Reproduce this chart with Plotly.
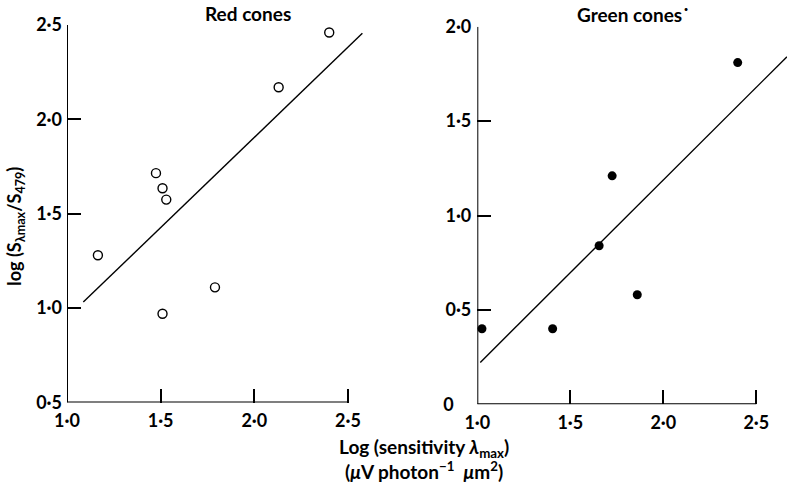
import plotly.graph_objects as go

# ---- data ----
red_x = [1.165, 1.475, 1.51, 1.53, 1.51, 1.79, 2.13, 2.40]
red_y = [1.28, 1.715, 1.635, 1.575, 0.97, 1.11, 2.17, 2.46]
red_fit_x = [1.087, 2.577]
red_fit_y = [1.032, 2.456]

green_x = [1.025, 1.405, 1.655, 1.725, 1.86, 2.40]
green_y = [0.40, 0.40, 0.84, 1.21, 0.58, 1.81]
green_fit_x = [1.016, 2.665]
green_fit_y = [0.222, 1.841]

x_ticks = [1.0, 1.5, 2.0, 2.5]
x_tick_text = ["1·0", "1·5", "2·0", "2·5"]
red_y_ticks = [0.5, 1.0, 1.5, 2.0, 2.5]
red_y_text = ["0·5", "1·0", "1·5", "2·0", "2·5"]
green_y_ticks = [0, 0.5, 1.0, 1.5, 2.0]
green_y_text = ["0\u00a0\u00a0\u00a0\u00a0", "0·5", "1·0", "1·5", "2·0"]

FONT = "Lato"
tickfont = dict(family=FONT, size=18, color="black", weight="bold")

fig = go.Figure()

fig.add_trace(go.Scatter(x=red_fit_x, y=red_fit_y, mode="lines",
                         line=dict(color="black", width=1.4),
                         xaxis="x", yaxis="y", showlegend=False))
fig.add_trace(go.Scatter(x=red_x, y=red_y, mode="markers",
                         marker=dict(symbol="circle-open", size=9, color="black",
                                     line=dict(width=1.4, color="black")),
                         cliponaxis=False, xaxis="x", yaxis="y", showlegend=False))
fig.add_trace(go.Scatter(x=green_fit_x, y=green_fit_y, mode="lines",
                         line=dict(color="black", width=1.4),
                         xaxis="x2", yaxis="y2", showlegend=False))
fig.add_trace(go.Scatter(x=green_x, y=green_y, mode="markers",
                         marker=dict(symbol="circle", size=9, color="black"),
                         cliponaxis=False, xaxis="x2", yaxis="y2", showlegend=False))

axis_common = dict(showgrid=False, zeroline=False, showline=False, automargin=False,
                   ticks="inside", ticklen=14, tickwidth=2, tickcolor="black",
                   tickfont=tickfont, tickmode="array")

fig.update_layout(
    width=787, height=487,
    margin=dict(l=0, r=0, t=0, b=0, pad=0),
    paper_bgcolor="white", plot_bgcolor="white",
    xaxis=dict(domain=[67 / 787, (67 + 1.6 * 187.3) / 787], range=[1.0, 2.6],
               tickvals=x_ticks, ticktext=x_tick_text, anchor="y",
               ticklabelstandoff=5, **axis_common),
    yaxis=dict(domain=[(487 - 402.5) / 487, (487 - 25) / 487], range=[0.5, 2.5],
               tickvals=red_y_ticks, ticktext=red_y_text, anchor="x",
               ticklabelstandoff=4, **axis_common),
    xaxis2=dict(domain=[477.3 / 787, 1.0], range=[1.0, 1.0 + (787 - 477.3) / 186],
                tickvals=x_ticks, ticktext=x_tick_text, anchor="y2",
                ticklabelstandoff=6, **axis_common),
    yaxis2=dict(domain=[(487 - 404.3) / 487, (487 - 26.7) / 487], range=[0, 2.0],
                tickvals=green_y_ticks, ticktext=green_y_text, anchor="x2",
                ticklabelstandoff=5, **axis_common),
)

# axis lines (end at 2.5 like the original)
for xr, yr, y0, y1 in [("x", "y", 0.5, 2.5), ("x2", "y2", 0.0, 2.0)]:
    fig.add_shape(type="line", xref=xr, yref=yr, x0=1.0, x1=2.5, y0=y0, y1=y0,
                  line=dict(color="black", width=2))
    fig.add_shape(type="line", xref=xr, yref=yr, x0=1.0, x1=1.0, y0=y0, y1=y1,
                  line=dict(color="black", width=2))

titlefont = dict(family=FONT, size=19, color="black", weight="bold")
fig.add_annotation(text="Red cones", x=248 / 787, y=(487 - 13) / 487,
                   xref="paper", yref="paper", showarrow=False, font=titlefont,
                   xanchor="center", yanchor="middle")
fig.add_annotation(text="Green cones˙", x=633 / 787, y=(487 - 15) / 487,
                   xref="paper", yref="paper", showarrow=False, font=titlefont,
                   xanchor="center", yanchor="middle")
fig.add_annotation(text="log (S<sub>λmax</sub>/S<sub>479</sub>)", x=16 / 787,
                   y=(487 - 226.7) / 487, xref="paper", yref="paper", showarrow=False,
                   textangle=-90, font=dict(family=FONT, size=18, color="black", weight="bold"),
                   xanchor="center", yanchor="middle")
fig.add_annotation(text="Log (sensitivity <i>λ</i><sub>max</sub>)<br>"
                        "(<i>μ</i>V photon<sup>−1</sup>  <i>μ</i>m<sup>2</sup>)",
                   x=424 / 787, y=(487 - 459) / 487, xref="paper", yref="paper",
                   showarrow=False, font=titlefont, xanchor="center", yanchor="middle",
                   align="center")

fig.write_html("out.html")
